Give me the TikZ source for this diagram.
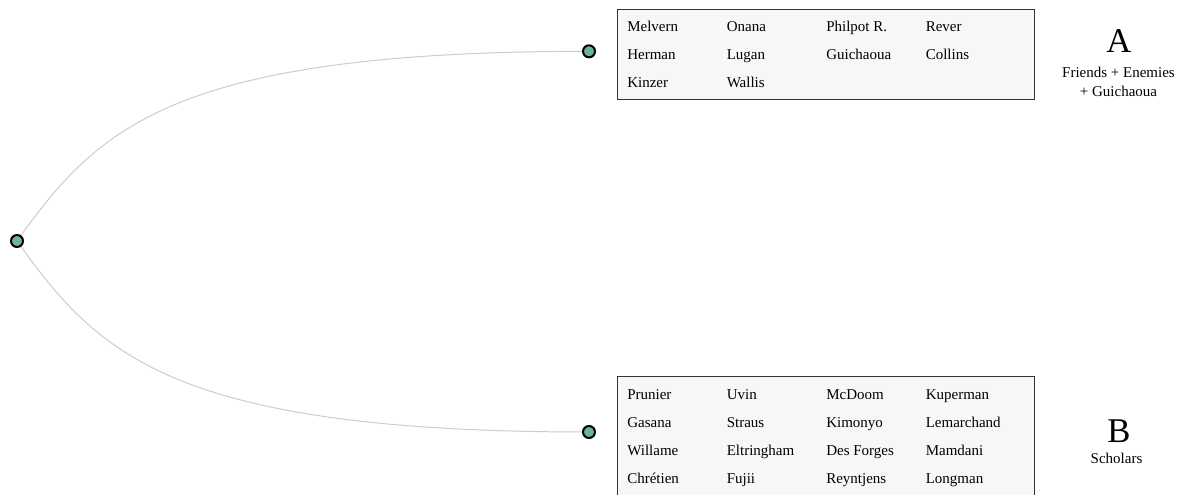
\documentclass[tikz,border=0pt]{standalone}
\usepackage{fontspec}
\setmainfont{Liberation Serif}
\usepackage{xcolor}
\definecolor{NODECOLOR}{HTML}{69B3A2}
\definecolor{LINKCOLOR}{HTML}{CCCCCC}
\colorlet{BOXCOLOR}{black!3}
\colorlet{FRAMECOLOR}{black!80}
\usetikzlibrary{positioning,calc,backgrounds}
\tikzset{
  dot-style/.style = {
    circle, draw, line width=1.5pt,
    fill=NODECOLOR,
    minimum size=9pt,
    inner sep=0pt
  },
  link-style/.style = {
    draw=LINKCOLOR, line width=0.75pt
  },
  box-style/.style = {
    draw=FRAMECOLOR, fill=BOXCOLOR, line width=0.75pt
  },
  name-style/.style = {
    anchor=base west, inner sep=0pt,
    font=\fontsize{11.25}{13}\selectfont
  },
  group-style/.style = {
    anchor=base, inner sep=0pt,
    font=\fontsize{26}{30}\selectfont
  },
  caption-style/.style = {
    anchor=base, inner sep=0pt,
    font=\fontsize{11.25}{13}\selectfont
  }
}
\newcommand\colStep{99.5}
\newcommand\rowStep{28.1}
% names run left to right, four to a row
\def\fillBox name:#1 top:#2 names:#3;{
  \foreach \who [count=\i from 0] in {#3} {
    \pgfmathtruncatemacro\col{mod(\i,4)}
    \pgfmathtruncatemacro\row{div(\i,4)}
    \node [name-style] (#1-\i) at (627+\colStep*\col, #2+\rowStep*\row) {\who};
  }
}

\begin{document}
\begin{tikzpicture}[x=0.75pt,y=-0.75pt]
  \useasboundingbox (0,0) rectangle (1182,494);

  \node [dot-style] (root) at (17,241) {};
  \node [dot-style] (a) at (589,51.3) {};
  \node [dot-style] (b) at (589,432) {};

  \begin{pgfonlayer}{background}
    \draw [link-style] (root.center) .. controls (97,129) and (170,51.3) .. (a.center);
    \draw [link-style] (root.center) .. controls (97,353) and (170,432) .. (b.center);
  \end{pgfonlayer}

  \draw [box-style] (617,9) rectangle (1034,99.5);
  \draw [box-style] (617,376.7) rectangle (1034,495.5);

  \fillBox name:boxa top:31.7 names:{Melvern,Onana,Philpot R.,Rever,
    Herman,Lugan,Guichaoua,Collins,Kinzer,Wallis};
  \fillBox name:boxb top:399.3 names:{Prunier,Uvin,McDoom,Kuperman,
    Gasana,Straus,Kimonyo,Lemarchand,Willame,Eltringham,Des Forges,Mamdani,
    Chrétien,Fujii,Reyntjens,Longman};

  \node [group-style] (labela) at (1119,52) {A};
  \node [caption-style] (capa1) at (1118.5,77) {Friends + Enemies};
  \node [caption-style] (capa2) at (1118.5,96) {+ Guichaoua};

  \node [group-style] (labelb) at (1119,442.7) {B};
  \node [caption-style] (capb) at (1116.5,463) {Scholars};
\end{tikzpicture}
\end{document}
